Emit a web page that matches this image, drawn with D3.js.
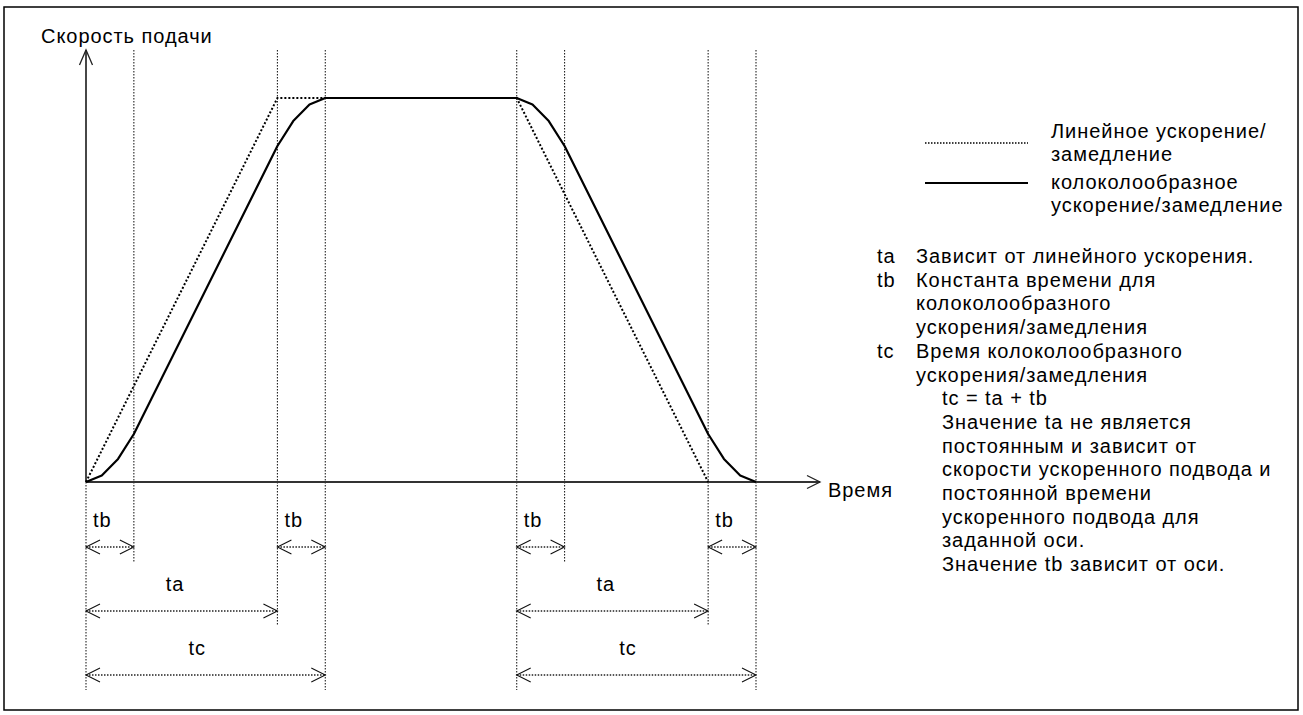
<!DOCTYPE html>
<html><head><meta charset="utf-8">
<script src="https://cdn.jsdelivr.net/npm/d3@7"></script>
<style>
body{margin:0;background:#fff}
svg{display:block}
text{font-family:"Liberation Sans",Arial,Helvetica,sans-serif;fill:#000;letter-spacing:0.95px}
</style>
</head><body>
<svg id="c" width="1303" height="715"></svg>
<script>
// ---- data ----
// time in units of tb, speed normalised to 1
const linearProfile = [[0,0],[4,1],[9,1],[13,0]];
const bellProfile = [[0,0],[0.33,0.017],[0.67,0.06],[1,0.125],[4,0.875],[4.33,0.94],[4.67,0.983],[5,1],
                     [9,1],[9.33,0.983],[9.67,0.94],[10,0.875],[13,0.125],[13.33,0.06],[13.67,0.017],[14,0]];
const guideTimes = [0,1,4,5,9,10,13,14];
const guideRow   = [2,0,1,2,2,0,1,2];          // lowest dimension row each guide reaches
const dimLabels  = ["tb","tb","tb","tb","ta","ta","tc","tc"];
const dimFrom    = [0,4,9,13,0,9,0,9];
const dimTo      = [1,5,10,14,4,13,5,14];
const dimRow     = [0,0,0,0,1,1,2,2];
const yAxisLabel = "Скорость подачи";
const xAxisLabel = "Время";
const legendNames = [["Линейное ускорение/","замедление"],["колоколообразное","ускорение/замедление"]];
const notes = [
  ["ta","Зависит от линейного ускорения."],
  ["tb","Константа времени для"],
  ["","колоколообразного"],
  ["","ускорения/замедления"],
  ["tc","Время колоколообразного"],
  ["","ускорения/замедления"]
];
const noteExtra = ["tc = ta + tb","Значение ta не является","постоянным и зависит от",
  "скорости ускоренного подвода и","постоянной времени","ускоренного подвода для",
  "заданной оси.","Значение tb зависит от оси."];

// ---- layout ----
const svg = d3.select("#c");
const x = d3.scaleLinear().domain([0,14]).range([86,756]);
const y = d3.scaleLinear().domain([0,1]).range([482,98]);
const yTop = y.invert(50), xEnd = x.invert(820);
const rowY = [547,611,675];
const FS = 20;

svg.append("rect").attr("x",4).attr("y",7).attr("width",1294).attr("height",703)
  .attr("fill","none").attr("stroke","#000").attr("stroke-width",1.5);

// guides
const g = svg.append("g");
guideTimes.forEach((t,i)=>{
  g.append("line").attr("x1",x(t)).attr("x2",x(t))
    .attr("y1", t===0 ? y(0) : y(yTop)).attr("y2", rowY[guideRow[i]]+15)
    .attr("stroke","#222").attr("stroke-width",1.1).attr("stroke-dasharray","1.5,1.5");
});

// axes
svg.append("line").attr("x1",x(0)).attr("x2",x(0)).attr("y1",y(0)).attr("y2",y(yTop))
  .attr("stroke","#333").attr("stroke-width",1.8);
svg.append("line").attr("x1",x(0)).attr("x2",x(xEnd)).attr("y1",y(0)).attr("y2",y(0))
  .attr("stroke","#333").attr("stroke-width",1.8);
svg.append("path").attr("d",`M${x(0)-6.5},${y(yTop)+15}L${x(0)},${y(yTop)}L${x(0)+6.5},${y(yTop)+15}`)
  .attr("fill","none").attr("stroke","#222").attr("stroke-width",1.3);
svg.append("path").attr("d",`M${x(xEnd)-13},${y(0)-6.5}L${x(xEnd)},${y(0)}L${x(xEnd)-13},${y(0)+6.5}`)
  .attr("fill","none").attr("stroke","#222").attr("stroke-width",1.3);
svg.append("text").attr("x",41).attr("y",43).attr("font-size",FS).text(yAxisLabel);
svg.append("text").attr("x",828).attr("y",497).attr("font-size",FS).text(xAxisLabel);

// curves
const line = d3.line().x(d=>x(d[0])).y(d=>y(d[1]));
svg.append("path").attr("d",line(linearProfile)).attr("fill","none")
  .attr("stroke","#000").attr("stroke-width",2).attr("stroke-dasharray","2,2");
svg.append("path").attr("d",line(bellProfile)).attr("fill","none")
  .attr("stroke","#000").attr("stroke-width",2.2).attr("stroke-linejoin","round");

// dimensions
dimLabels.forEach((lab,i)=>{
  const x1=x(dimFrom[i]), x2=x(dimTo[i]), yy=rowY[dimRow[i]];
  const dg = svg.append("g");
  dg.append("line").attr("x1",x1).attr("x2",x2).attr("y1",yy).attr("y2",yy)
    .attr("stroke","#222").attr("stroke-width",1.3).attr("stroke-dasharray","1.5,1.5");
  dg.append("path").attr("d",`M${x1+14},${yy-7}L${x1},${yy}L${x1+14},${yy+7}M${x2-14},${yy-7}L${x2},${yy}L${x2-14},${yy+7}`)
    .attr("fill","none").attr("stroke","#111").attr("stroke-width",1.1);
  const tx = lab==="tb" ? x1+7 : x1+(x2-x1)*0.465;
  dg.append("text").attr("x",tx).attr("y",yy-20).attr("font-size",FS)
    .attr("text-anchor", lab==="tb" ? "start" : "middle").text(lab);
});

// legend
const lg = svg.append("g");
const sampleY = [143,183];
const legBase = [[138,161],[189,212]];
legendNames.forEach((names,i)=>{
  lg.append("line").attr("x1",925).attr("x2",1028).attr("y1",sampleY[i]).attr("y2",sampleY[i])
    .attr("stroke","#000").attr("stroke-width", i===0?1.4:2)
    .attr("stroke-dasharray", i===0?"1.5,1.5":null);
  names.forEach((n,j)=>lg.append("text").attr("x",1051).attr("y",legBase[i][j]).attr("font-size",FS).text(n));
});

// notes
const LH = 23.7, B0 = 263;
notes.forEach((n,i)=>{
  const yy = B0 + i*LH;
  if(n[0]) lg.append("text").attr("x",877).attr("y",yy).attr("font-size",FS).text(n[0]);
  lg.append("text").attr("x",916).attr("y",yy).attr("font-size",FS).text(n[1]);
});
noteExtra.forEach((s,i)=>{
  lg.append("text").attr("x",942).attr("y",B0+(6+i)*LH).attr("font-size",FS).text(s);
});
</script>
</body></html>
